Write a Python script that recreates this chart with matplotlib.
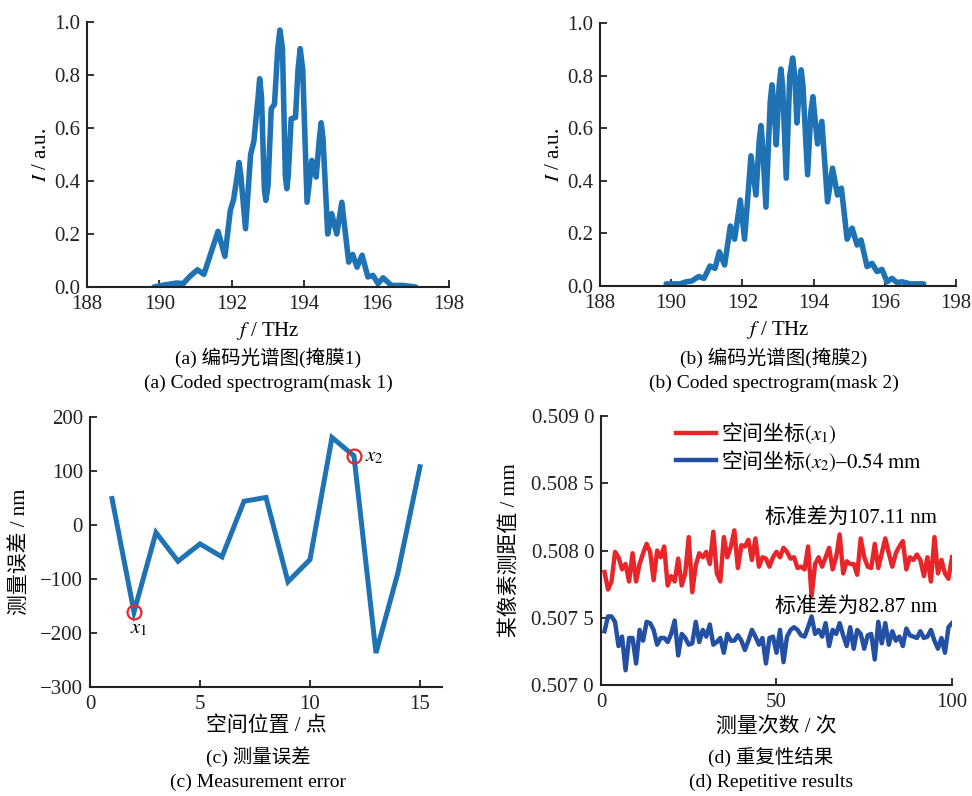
import matplotlib
matplotlib.use('Agg')
import matplotlib.pyplot as plt
from matplotlib.ticker import FuncFormatter

plt.rcParams['font.family'] = ['Liberation Serif', 'Noto Sans CJK SC']
plt.rcParams['mathtext.fontset'] = 'stix'
plt.rcParams['axes.unicode_minus'] = True

# (a) coded spectrum, mask 1
freq_a = [189.85, 190.06, 190.47, 190.66, 190.84, 191.05, 191.23, 191.41, 191.62, 191.81,
          191.96, 192.05, 192.15, 192.2, 192.25, 192.38, 192.52, 192.61, 192.73, 192.77,
          192.82, 192.90, 192.94, 193.0, 193.09, 193.18, 193.27, 193.33, 193.40, 193.48,
          193.52, 193.56, 193.64, 193.76, 193.83, 193.89, 193.96, 194.08, 194.21, 194.33,
          194.42, 194.47, 194.52, 194.65, 194.76, 194.9, 195.04, 195.23, 195.34, 195.46,
          195.6, 195.76, 195.9, 196.04, 196.18, 196.41, 196.73, 197.08]
inten_a = [0.0, 0.006, 0.015, 0.013, 0.04, 0.065, 0.048, 0.123, 0.21, 0.116,
           0.29, 0.33, 0.42, 0.47, 0.42, 0.22, 0.50, 0.55, 0.72, 0.786,
           0.72, 0.37, 0.327, 0.38, 0.673, 0.69, 0.90, 0.97, 0.90, 0.42,
           0.371, 0.42, 0.635, 0.64, 0.82, 0.90, 0.82, 0.32, 0.478, 0.415,
           0.56, 0.62, 0.56, 0.20, 0.277, 0.20, 0.32, 0.094, 0.123, 0.075,
           0.12, 0.038, 0.044, 0.013, 0.035, 0.006, 0.006, 0.0]

# (b) coded spectrum, mask 2
freq_b = [189.86, 190.25, 190.42, 190.58, 190.77, 190.92, 191.09, 191.23, 191.35, 191.5,
          191.66, 191.78, 191.94, 192.06, 192.24, 192.38, 192.47, 192.52, 192.56, 192.66,
          192.78, 192.83, 192.88, 192.95, 193.03, 193.08, 193.13, 193.23, 193.33, 193.41,
          193.47, 193.53, 193.60, 193.65, 193.70, 193.83, 193.92, 193.98, 194.02, 194.11,
          194.23, 194.39, 194.53, 194.67, 194.78, 194.94, 195.08, 195.22, 195.33, 195.5,
          195.64, 195.78, 195.92, 196.06, 196.2, 196.34, 196.48, 196.72, 197.09]
inten_b = [0.008, 0.008, 0.016, 0.019, 0.036, 0.029, 0.076, 0.067, 0.13, 0.08,
           0.228, 0.178, 0.327, 0.178, 0.495, 0.346, 0.55, 0.61, 0.55, 0.30,
           0.70, 0.765, 0.70, 0.537, 0.76, 0.825, 0.76, 0.41, 0.80, 0.867,
           0.80, 0.62, 0.76, 0.822, 0.76, 0.423, 0.66, 0.72, 0.66, 0.54,
           0.626, 0.32, 0.448, 0.346, 0.372, 0.178, 0.22, 0.156, 0.175, 0.074,
           0.086, 0.055, 0.063, 0.016, 0.029, 0.013, 0.016, 0.008, 0.008]

# (c) measurement error at each spatial position
positions = list(range(1, 16))
errors = [49, -161, -14, -67, -35, -59, 44, 51, -105, -64, 162, 128, -237, -88, 108]
marked = [(2, '$x_1$'), (12, '$x_2$')]

# (d) repeated measurements (mm)
runs = list(range(1, 101))
dist_x1 = [0.50784, 0.50771, 0.50777, 0.50799, 0.50795, 0.50786, 0.50790, 0.50777, 0.50798, 0.50777,
           0.50790, 0.50798, 0.50805, 0.50799, 0.50778, 0.50800, 0.50795, 0.50803, 0.50774, 0.50781,
           0.50777, 0.50794, 0.50774, 0.50783, 0.50810, 0.50769, 0.50789, 0.50798, 0.50795, 0.50799,
           0.50790, 0.50814, 0.50783, 0.50777, 0.50810, 0.50795, 0.50803, 0.50815, 0.50787, 0.50804,
           0.50803, 0.50808, 0.50793, 0.50809, 0.50788, 0.50795, 0.50794, 0.50788, 0.50795, 0.50799,
           0.50795, 0.50802, 0.50799, 0.50794, 0.50795, 0.50787, 0.50788, 0.50786, 0.50803, 0.50766,
           0.50790, 0.50795, 0.50788, 0.50795, 0.50802, 0.50786, 0.50795, 0.50812, 0.50783, 0.50792,
           0.50790, 0.50790, 0.50782, 0.50809, 0.50795, 0.50788, 0.50787, 0.50805, 0.50787, 0.50798,
           0.50809, 0.50798, 0.50788, 0.50798, 0.50803, 0.50807, 0.50786, 0.50795, 0.50793, 0.50797,
           0.50793, 0.50781, 0.50795, 0.50777, 0.50810, 0.50783, 0.50793, 0.50783, 0.50779, 0.50795]
dist_x2 = [0.50740, 0.50751, 0.50751, 0.50747, 0.50729, 0.50736, 0.50711, 0.50735, 0.50735, 0.50716,
           0.50741, 0.50733, 0.50747, 0.50746, 0.50741, 0.50730, 0.50735, 0.50735, 0.50732, 0.50738,
           0.50748, 0.50722, 0.50738, 0.50735, 0.50730, 0.50731, 0.50747, 0.50732, 0.50741, 0.50736,
           0.50745, 0.50730, 0.50732, 0.50735, 0.50724, 0.50738, 0.50733, 0.50733, 0.50737, 0.50733,
           0.50726, 0.50733, 0.50741, 0.50736, 0.50730, 0.50735, 0.50716, 0.50735, 0.50736, 0.50724,
           0.50741, 0.50717, 0.50736, 0.50741, 0.50743, 0.50741, 0.50737, 0.50736, 0.50743, 0.50751,
           0.50738, 0.50741, 0.50736, 0.50746, 0.50729, 0.50741, 0.50738, 0.50746, 0.50737, 0.50729,
           0.50743, 0.50727, 0.50741, 0.50738, 0.50727, 0.50737, 0.50738, 0.50719, 0.50747, 0.50731,
           0.50746, 0.50730, 0.50740, 0.50733, 0.50736, 0.50729, 0.50742, 0.50737, 0.50736, 0.50735,
           0.50740, 0.50735, 0.50736, 0.50741, 0.50733, 0.50727, 0.50735, 0.50724, 0.50743, 0.50746]

BLUE = '#1f72b4'
FS = 15


def style_axes(ax):
    for side in ['top', 'right']:
        ax.spines[side].set_visible(False)
    for side in ['left', 'bottom']:
        ax.spines[side].set_linewidth(1.5)
        ax.spines[side].set_color('#222222')
    ax.tick_params(direction='in', length=5, width=1.3, labelsize=FS, colors='#222222')
    ax.tick_params(axis='x', pad=6)
    ax.tick_params(axis='y', pad=5)


fig = plt.figure(figsize=(9.72, 7.96), dpi=100)

ax_a = fig.add_axes([0.0895, 0.6394, 0.3724, 0.3329])
ax_b = fig.add_axes([0.6173, 0.6407, 0.3663, 0.3304])
ax_c = fig.add_axes([0.0926, 0.1369, 0.3621, 0.3392])
ax_d = fig.add_axes([0.6183, 0.1394, 0.3611, 0.3379])

# spectra
for ax, f, s in [(ax_a, freq_a, inten_a), (ax_b, freq_b, inten_b)]:
    ax.plot(f, s, color=BLUE, lw=4.0, solid_joinstyle='round', solid_capstyle='round')
    ax.set_xlim(188, 198)
    ax.set_ylim(0, 1.0)
    ax.set_xticks(range(188, 199, 2))
    ax.set_yticks([0, 0.2, 0.4, 0.6, 0.8, 1.0])
    ax.yaxis.set_major_formatter(FuncFormatter(lambda v, p: f'{v:.1f}'))
    ax.set_xlabel('$f$ / THz', fontsize=FS)
    ax.set_ylabel('$I$ / a.u.', fontsize=FS)
    style_axes(ax)
    ax.xaxis.set_label_coords(0.5, -0.125)
    ax.yaxis.set_label_coords(-0.10, 0.5)

# measurement error
ax_c.plot(positions, errors, color=BLUE, lw=3.6, solid_joinstyle='miter')
for p, lab in marked:
    v = errors[positions.index(p)]
    ax_c.plot(p, v, 'o', ms=10, mfc='none', mec='#e8262a', mew=1.6)
ax_c.text(2.2, -192, marked[0][1], fontsize=FS, ha='center', va='center')
ax_c.text(12.95, 126, marked[1][1], fontsize=FS, ha='center', va='center')
ax_c.set_xlim(0, 16)
ax_c.set_ylim(-300, 200)
ax_c.set_xticks([0, 5, 10, 15])
ax_c.set_yticks(range(-300, 201, 100))
ax_c.set_xlabel('空间位置 / 点', fontsize=FS)
ax_c.set_ylabel('测量误差 / nm', fontsize=FS)
style_axes(ax_c)
ax_c.xaxis.set_label_coords(0.5, -0.11)
ax_c.yaxis.set_label_coords(-0.17, 0.5)

# repetitive results
ax_d.plot(runs, dist_x1, color='#e8262a', lw=3.2, label='空间坐标$(x_1)$')
ax_d.plot(runs, dist_x2, color='#2450a4', lw=3.2, label=r'空间坐标$(x_2)\mathrm{–0.54\ mm}$')
ax_d.set_xlim(0, 100)
ax_d.set_ylim(0.507, 0.509)
ax_d.set_xticks([0, 50, 100])
ax_d.set_yticks([0.507, 0.5075, 0.508, 0.5085, 0.509])


def spaced(v, p):
    s = f'{v:.4f}'
    return s[:-1] + ' ' + s[-1]


ax_d.yaxis.set_major_formatter(FuncFormatter(spaced))
ax_d.text(95.7, 0.50824, '标准差为107.11 nm', fontsize=FS, ha='right', va='center')
ax_d.text(95.7, 0.50758, '标准差为82.87 nm', fontsize=FS, ha='right', va='center')
ax_d.legend(loc='upper left', bbox_to_anchor=(0.215, 0.985), frameon=False,
            prop={'family': 'Noto Sans CJK SC', 'size': FS},
            handlelength=1.9, handletextpad=0.25, labelspacing=0.1, borderpad=0, borderaxespad=0)
ax_d.set_xlabel('测量次数 / 次', fontsize=FS)
ax_d.set_ylabel('某像素测距值 / mm', fontsize=FS)
style_axes(ax_d)
ax_d.xaxis.set_label_coords(0.5, -0.119)
ax_d.yaxis.set_label_coords(-0.23, 0.5)

# captions under each panel
captions = [
    (268 / 972, 358, '(a) 编码光谱图(掩膜1)'),
    (268 / 972, 383, '(a) Coded spectrogram(mask 1)'),
    (774 / 972, 358, '(b) 编码光谱图(掩膜2)'),
    (774 / 972, 383, '(b) Coded spectrogram(mask 2)'),
    (258 / 972, 757, '(c) 测量误差'),
    (258 / 972, 782, '(c) Measurement error'),
    (771 / 972, 757, '(d) 重复性结果'),
    (771 / 972, 782, '(d) Repetitive results'),
]
for x, y, t in captions:
    fig.text(x, 1 - y / 796, t, fontsize=14, ha='center', va='center')

fig.savefig('out.png', dpi=100)
